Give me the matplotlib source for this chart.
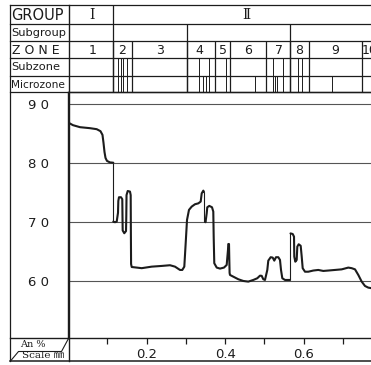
import matplotlib
matplotlib.use('Agg')
import matplotlib.pyplot as plt

# ---------------- data ----------------
# An % profile vs scale (mm); thick curve segments
seg1_x = [0.0033, 0.0127, 0.0305, 0.0560, 0.0731, 0.0827, 0.0878, 0.0904, 0.0929, 0.0955, 0.0993, 0.1069, 0.1153]
seg1_y = [86.71, 86.37, 86.03, 85.86, 85.69, 85.35, 84.72, 83.36, 81.83, 80.81, 80.30, 80.05, 80.0]

seg2_x = [0.1153, 0.1197, 0.1240, 0.1273, 0.1281, 0.1298, 0.1349, 0.1382, 0.1387, 0.1392, 0.1433, 0.1477,
          0.1484, 0.1490, 0.1520, 0.1578, 0.1596, 0.1601, 0.1606, 0.1622, 0.1876, 0.2131, 0.2385, 0.2597,
          0.2724, 0.2851, 0.2910, 0.2961, 0.2996, 0.3030, 0.3080, 0.3149, 0.3233, 0.3317, 0.3378, 0.3404,
          0.3445, 0.3462]
seg2_y = [70.0, 69.9, 70.0, 71.5, 73.5, 74.14, 74.14, 73.8, 71.0, 68.5, 68.03, 68.4,
          71.0, 74.5, 75.2, 75.1, 74.5, 68.0, 62.8, 62.3, 62.1, 62.36, 62.48, 62.6,
          62.36, 61.8, 61.8, 62.36, 66.33, 70.29, 71.99, 72.55, 72.95, 73.1, 73.4, 74.8,
          75.26, 75.0]

seg3_x = [0.3488, 0.3501, 0.3531, 0.3546, 0.3597, 0.3666, 0.3699, 0.3709, 0.3724, 0.3786, 0.3870, 0.3971,
          0.4040, 0.4073, 0.4081, 0.4099, 0.4106, 0.4114, 0.4124, 0.4208, 0.4336, 0.4463, 0.4590, 0.4717,
          0.4819, 0.4888, 0.4931, 0.4972, 0.5015, 0.5074, 0.5099, 0.5160, 0.5211, 0.5252, 0.5295, 0.5354,
          0.5397, 0.5423, 0.5456, 0.5524, 0.5652]
seg3_y = [70.0, 69.9, 71.4, 72.44, 72.67, 72.44, 71.7, 67.45, 62.94, 62.2, 62.03, 62.2,
          62.65, 65.2, 66.2, 66.2, 63.8, 61.3, 60.95, 60.66, 60.22, 59.93, 59.82, 60.1,
          60.39, 60.83, 60.8, 60.22, 60.1, 61.8, 63.38, 63.96, 63.9, 63.38, 63.96, 63.96,
          63.5, 61.8, 60.39, 60.1, 60.1]

seg4_x = [0.5665, 0.5721, 0.5754, 0.5761, 0.5787, 0.5822, 0.5838, 0.5873, 0.5924, 0.5950, 0.5975, 0.6034,
          0.6118, 0.6245, 0.6372, 0.6499, 0.6627, 0.6797, 0.6968, 0.7136, 0.7222, 0.7307, 0.7391, 0.7477,
          0.7561, 0.7645, 0.7732]
seg4_y = [68.0, 67.9, 67.45, 64.06, 63.2, 63.5, 65.76, 66.16, 65.9, 64.06, 62.09, 61.5,
          61.5, 61.7, 61.8, 61.63, 61.7, 61.8, 61.9, 62.2, 62.1, 61.9, 60.95, 59.82,
          59.08, 58.8, 58.7]

# thin vertical jumps: x, from, to
jump_x = [0.1155, 0.3462, 0.5652]
jump_lo = [70.0, 70.0, 60.1]
jump_hi = [80.0, 75.0, 68.0]

# header table (x in mm scale)
group_labels = ['Ⅰ', 'Ⅱ']
group_label_x = [0.0598, 0.4549]
group_bounds = [0.1158]
subgroup_bounds = [0.3030, 0.5652]
zone_labels = ['1', '2', '3', '4', '5', '6', '7', '8', '9', '10']
zone_label_x = [0.0620, 0.1380, 0.2335, 0.3335, 0.3940, 0.4585, 0.5360, 0.5890, 0.6810, 0.7690]
zone_bounds = [0.1158, 0.1622, 0.3030, 0.3742, 0.4137, 0.5041, 0.5652, 0.6135, 0.7485]
subzone_lines = [0.128, 0.134, 0.141, 0.149, 0.3335, 0.3582, 0.4015, 0.521, 0.548, 0.586, 0.595]
microzone_lines = [0.344, 0.351, 0.476, 0.527, 0.533, 0.671]

yticks = [60, 70, 80, 90]
ytick_labels = ['6 0', '7 0', '8 0', '9 0']
xticks = [0.1, 0.2, 0.3, 0.4, 0.5, 0.6, 0.7]
xtick_labels = ['', '0.2', '', '0.4', '', '0.6', '']

row_names = ['GROUP', 'Subgroup', 'Z O N E', 'Subzone', 'Microzone']

# ---------------- drawing ----------------
W, H = 371, 365
INK = '#1c1c1c'
GRID = '#555555'
fig = plt.figure(figsize=(W / 100, H / 100), dpi=100)


def fx(px):
    return px / W


def fy(py):
    return 1 - py / H


# main plot
ax = fig.add_axes([fx(68), fy(338), fx(371) - fx(68), fy(92) - fy(338)])
ax.set_xlim(0, 0.7714)
ax.set_ylim(50.25, 92.0)
for sx, sy in [(seg1_x, seg1_y), (seg2_x, seg2_y), (seg3_x, seg3_y), (seg4_x, seg4_y)]:
    ax.plot(sx, sy, color=INK, lw=1.5, solid_capstyle='round', solid_joinstyle='round', zorder=3)
ax.vlines(jump_x, jump_lo, jump_hi, color=INK, lw=0.8, zorder=3)

ax.set_yticks(yticks)
ax.set_yticklabels(ytick_labels, ha='center', fontsize=9.5, color=INK)
ax.tick_params(axis='y', length=0, pad=21.5)
ax.yaxis.grid(True, color=GRID, lw=0.8)
ax.set_xticks(xticks)
ax.set_xticklabels(xtick_labels, fontsize=9.5, color=INK)
ax.tick_params(axis='x', direction='out', length=4, width=0.9, color=INK, pad=3.0)
ax.spines['right'].set_visible(False)
for s in ['left', 'bottom', 'top']:
    ax.spines[s].set_color(INK)
    ax.spines[s].set_linewidth(1.0)

# header table sharing the mm scale
hx = fig.add_axes([fx(68), fy(92), fx(371) - fx(68), fy(5) - fy(92)], sharex=ax)
hx.set_ylim(92, 5)
hx.axis('off')
hx.vlines(group_bounds, 5, 92, color=INK, lw=0.9)
hx.vlines(subgroup_bounds, 24, 92, color=INK, lw=0.9)
hx.vlines(zone_bounds, 40.5, 92, color=INK, lw=0.9)
hx.vlines(subzone_lines, 58, 92, color=INK, lw=0.7)
hx.vlines(microzone_lines, 76, 92, color=INK, lw=0.7)
for lab, x in zip(group_labels, group_label_x):
    hx.text(x, 15, lab, ha='center', va='center', fontsize=10, color=INK,
            family=['DejaVu Serif', 'Noto Sans CJK JP'])
for lab, x in zip(zone_labels, zone_label_x):
    hx.text(x, 50, lab, ha='center', va='center', fontsize=9, color=INK, clip_on=True)

# table frame and left column in pixel coordinates
fr = fig.add_axes([0, 0, 1, 1])
fr.set_xlim(0, W)
fr.set_ylim(H, 0)
fr.axis('off')
fr.patch.set_alpha(0)
for y in [5, 24, 40.5, 58, 76, 92]:
    fr.plot([10, W], [y, y], color=INK, lw=0.9)
fr.plot([10, 68], [338, 338], color=INK, lw=1.0)
fr.plot([10, W], [361, 361], color=INK, lw=1.1)
fr.plot([10, 10], [5, 361], color=INK, lw=0.9)
fr.plot([68.5, 68.5], [5, 361], color=INK, lw=1.0)
fr.plot([10.5, 18.5, 61.5, 68.5], [361, 351.5, 351.5, 338.5], color=INK, lw=0.8)

row_y = [15, 32.5, 50, 67, 84.5]
row_fs = [10.5, 8.2, 9.0, 8.2, 7.6]
for name, y, fs in zip(row_names, row_y, row_fs):
    fr.text(11.5, y, name, ha='left', va='center', fontsize=fs, color=INK)

fr.text(33, 344.5, 'An %', ha='center', va='center', fontsize=7, color=INK,
        family=['DejaVu Serif'])
fr.text(43, 355.5, 'Scale ㎜', ha='center', va='center', fontsize=7.5, color=INK,
        family=['DejaVu Serif', 'Noto Sans CJK JP'])

fig.savefig('out.png', dpi=100, facecolor='white')
